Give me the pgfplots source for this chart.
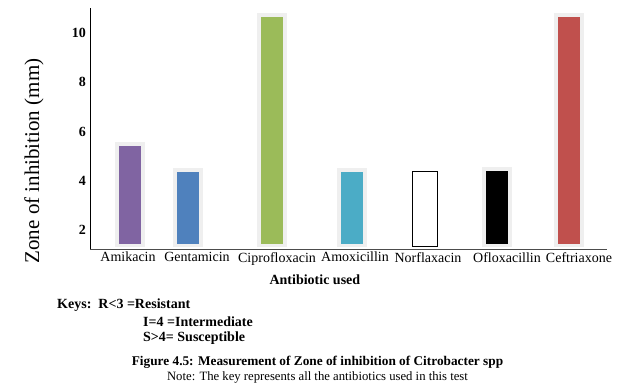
\documentclass[border=0pt]{standalone}
\usepackage{fontspec}
\setmainfont{Liberation Serif}
\usepackage{pgfplots}
\pgfplotsset{compat=1.18}
\definecolor{cAmi}{HTML}{8064A2}
\definecolor{cGen}{HTML}{4F81BD}
\definecolor{cCip}{HTML}{9BBB59}
\definecolor{cAmo}{HTML}{4BACC6}
\definecolor{cCef}{HTML}{C0504D}
\definecolor{glow}{HTML}{EFEFEF}
\begin{document}
\fontsize{14bp}{16bp}\selectfont
\begin{tikzpicture}
\useasboundingbox (0,0) rectangle (625bp,-385bp);
\begin{axis}[
  at={(90bp,-246bp)}, anchor=south west,
  scale only axis, width=517bp, height=238bp,
  xmin=90, xmax=607, ymin=1.35, ymax=11.015,
  axis x line=bottom, axis y line=left,
  axis x line shift=3bp,
  x axis line style={-, line width=1bp, color=black!70},
  y axis line style={-, line width=0.8bp, color=black, shorten <=-3bp},
  major tick length=0pt,
  xtick={128,197,277,355,428,507,579},
  xticklabels={Amikacin,Gentamicin,Ciprofloxacin,Amoxicillin,Norflaxacin,Ofloxacillin,Ceftriaxone},
  ytick={2,4,6,8,10},
  /pgf/number format/assume math mode=true,
  yticklabel style={font=\bfseries, inner sep=0pt, xshift=-4bp},
  xticklabel style={anchor=north, inner sep=0pt, yshift=-3bp},
  xlabel={\bfseries Antibiotic used},
  xlabel style={at={(axis description cs:0.435,0)}, anchor=center, yshift=-34bp},
  ylabel={Zone of inhibition (mm)},
  ylabel style={at={(axis description cs:-0.1083,0.357)}, anchor=center, font=\fontsize{21bp}{24bp}\selectfont},
  clip=true,
]
\addplot[ybar, bar width=26bp, bar shift=0pt, fill=cAmi, draw=glow, line width=4bp] coordinates {(130,5.50)};
\addplot[ybar, bar width=26bp, bar shift=0pt, fill=cGen, draw=glow, line width=4bp] coordinates {(188,4.45)};
\addplot[ybar, bar width=26bp, bar shift=0pt, fill=cCip, draw=glow, line width=4bp] coordinates {(272,10.74)};
\addplot[ybar, bar width=26bp, bar shift=0pt, fill=cAmo, draw=glow, line width=4bp] coordinates {(352,4.45)};
\addplot[ybar, bar width=25bp, bar shift=0pt, fill=white, draw=black, line width=0.8bp] coordinates {(424.5,4.36)};
\addplot[ybar, bar width=26bp, bar shift=0pt, fill=black, draw=glow, line width=4bp] coordinates {(497,4.49)};
\addplot[ybar, bar width=26bp, bar shift=0pt, fill=cCef, draw=glow, line width=4bp] coordinates {(569,10.74)};
\end{axis}
\node[anchor=west, inner sep=0pt, font=\bfseries] at (57bp,-305bp) {Keys:\ \ R<3 =Resistant};
\node[anchor=west, inner sep=0pt, font=\bfseries] at (143bp,-322bp) {I=4 =Intermediate};
\node[anchor=west, inner sep=0pt, font=\bfseries] at (143bp,-338bp) {S>4= Susceptible};
\node[inner sep=0pt, font=\bfseries\fontsize{13.3bp}{15bp}\selectfont] at (317.5bp,-362bp) {Figure 4.5: Measurement of Zone of inhibition of Citrobacter spp};
\node[inner sep=0pt, font=\fontsize{12.7bp}{14bp}\selectfont] at (317.5bp,-377bp) {Note: The key represents all the antibiotics used in this test};
\end{tikzpicture}
\end{document}
